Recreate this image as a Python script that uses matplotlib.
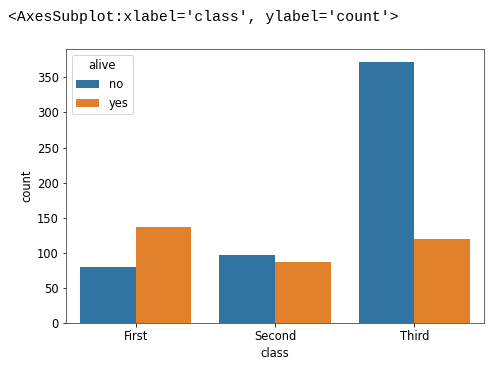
import matplotlib
matplotlib.use("Agg")
import matplotlib.pyplot as plt
import numpy as np

classes = ["First", "Second", "Third"]
hue_levels = ["no", "yes"]
counts_no = [80, 97, 372]
counts_yes = [136, 87, 119]
colors = ["#3274a1", "#e1812c"]

W, H = 496, 366
dpi = 72
fig = plt.figure(figsize=(W / dpi, H / dpi), dpi=dpi)
plt.rcParams['font.family'] = ['DejaVu Sans']

ax = fig.add_axes([66 / W, 1 - 322.7 / H, (484 - 66) / W, (322.7 - 49) / H])

x = np.arange(len(classes))
width = 0.4
for i, (lvl, vals) in enumerate(zip(hue_levels, [counts_no, counts_yes])):
    ax.bar(x - 0.2 + i * width, vals, width=width, color=colors[i], label=lvl)

fs = 11.5
ax.set_xticks(x)
ax.set_xticklabels(classes)
ax.set_xlim(-0.5, 2.5)
ax.set_ylim(0, 372 * 1.05)
ax.set_xlabel("class", fontsize=fs)
ax.set_ylabel("count", fontsize=fs)
ax.tick_params(labelsize=fs)
for s in ax.spines.values():
    s.set_color("#444444")
ax.legend(title="alive", loc="upper left", fontsize=fs, title_fontsize=fs)

fig.text(8 / W, 1 - 17 / H, "<AxesSubplot:xlabel='class', ylabel='count'>",
         family="Liberation Mono", fontsize=14.8, va="center", ha="left")

fig.savefig("out.png", dpi=dpi)
